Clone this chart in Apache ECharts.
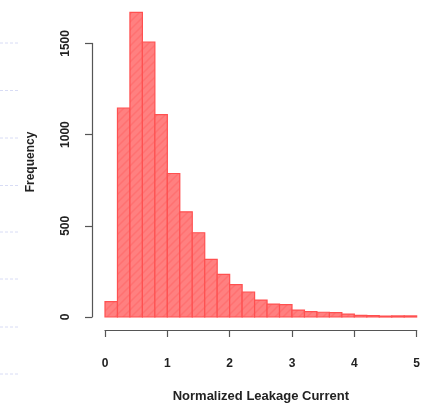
<!DOCTYPE html>
<html>
<head>
<meta charset="utf-8">
<script src="https://cdn.jsdelivr.net/npm/echarts@6/dist/echarts.min.js"></script>
<style>
  html, body { margin: 0; padding: 0; background: #fff; }
  #chart { width: 423px; height: 411px; }
</style>
</head>
<body>
<div id="chart"></div>
<script>
// histogram bins (left edge, right edge) and counts
const binStarts = [0, 0.2, 0.4, 0.6, 0.8, 1.0, 1.2, 1.4, 1.6, 1.8, 2.0, 2.2, 2.4, 2.6, 2.8, 3.0, 3.2, 3.4, 3.6, 3.8, 4.0, 4.2, 4.4, 4.6, 4.8]
const binEnds = [0.2, 0.4, 0.6, 0.8, 1.0, 1.2, 1.4, 1.6, 1.8, 2.0, 2.2, 2.4, 2.6, 2.8, 3.0, 3.2, 3.4, 3.6, 3.8, 4.0, 4.2, 4.4, 4.6, 4.8, 5.0]
const counts = [84, 1146, 1670, 1508, 1110, 787, 577, 462, 316, 234, 177, 137, 93, 71, 68, 38, 29, 26, 24, 16, 9, 7, 5, 6, 6]
const xTicks = [0, 1, 2, 3, 4, 5]
const yTicks = [0, 500, 1000, 1500]

// hatch pattern for the bars
const hatch = document.createElement('canvas')
hatch.width = 8
hatch.height = 8
const hctx = hatch.getContext('2d')
hctx.fillStyle = '#ff8080'
hctx.fillRect(0, 0, 8, 8)
hctx.strokeStyle = 'rgba(255,80,80,0.3)'
hctx.lineWidth = 1.5
hctx.beginPath()
hctx.moveTo(0, 8); hctx.lineTo(8, 0)
hctx.moveTo(-4, 4); hctx.lineTo(4, -4)
hctx.moveTo(4, 12); hctx.lineTo(12, 4)
hctx.stroke()

const barData = binStarts.map((s, i) => [s, binEnds[i], counts[i]])

const fontBase = { fontFamily: 'Liberation Sans', fontWeight: 'bold', color: '#222', fontSize: 12 }

// faint dashed marks at the left edge of the picture
const leftMarks = [43, 90.5, 138, 185.5, 232, 279, 327, 374].map((y) => ({
  type: 'line',
  shape: { x1: 0, y1: y, x2: 20, y2: y },
  style: { stroke: '#d8dcf5', lineWidth: 1, lineDash: [3, 2] },
  silent: true,
}))

const option = {
  animation: false,
  backgroundColor: '#fff',
  grid: [
    { left: 105, right: 4, top: 7, bottom: 94 },
    { left: 105, right: 4, top: 43.4, bottom: 94 },
  ],
  xAxis: [
    {
      gridIndex: 0,
      type: 'value',
      min: 0,
      max: 5,
      interval: 1,
      offset: 13,
      name: 'Normalized Leakage Current',
      nameLocation: 'middle',
      nameGap: 60,
      nameTextStyle: { ...fontBase, fontSize: 13 },
      axisLine: { show: true, onZero: false, lineStyle: { color: '#555', width: 1.2 } },
      axisTick: { show: true, length: 7, lineStyle: { color: '#555', width: 1.2 } },
      axisLabel: { ...fontBase, margin: 28, formatter: (v) => (xTicks.includes(v) ? String(v) : '') },
      splitLine: { show: false },
    },
    { gridIndex: 1, type: 'value', min: 0, max: 5, show: false },
  ],
  yAxis: [
    {
      gridIndex: 0,
      type: 'value',
      min: 0,
      max: 1700,
      name: 'Frequency',
      nameLocation: 'middle',
      nameGap: 68,
      nameTextStyle: { ...fontBase, fontSize: 12 },
      axisLine: { show: false, onZero: false },
      axisTick: { show: false },
      axisLabel: { show: false },
      splitLine: { show: false },
    },
    {
      gridIndex: 1,
      type: 'value',
      min: 0,
      max: 1500,
      interval: 500,
      offset: 13,
      axisLine: { show: true, onZero: false, lineStyle: { color: '#555', width: 1.2 } },
      axisTick: { show: true, length: 7, lineStyle: { color: '#555', width: 1.2 } },
      axisLabel: { ...fontBase, rotate: 90, margin: 20, formatter: (v) => (yTicks.includes(v) ? String(v) : '') },
      splitLine: { show: false },
    },
  ],
  series: [
    {
      type: 'custom',
      xAxisIndex: 0,
      yAxisIndex: 0,
      data: barData,
      renderItem: (params, api) => {
        const p0 = api.coord([api.value(0), api.value(2)])
        const p1 = api.coord([api.value(1), 0])
        return {
          type: 'rect',
          shape: { x: p0[0], y: p0[1], width: p1[0] - p0[0], height: p1[1] - p0[1] },
          style: {
            fill: { image: hatch, repeat: 'repeat' },
            stroke: '#ff5050',
            lineWidth: 1.2,
          },
        }
      },
    },
  ],
  graphic: leftMarks,
}

const chartObj = echarts.init(document.getElementById('chart'), null, { renderer: 'canvas' })
chartObj.setOption(option)
</script>
</body>
</html>
